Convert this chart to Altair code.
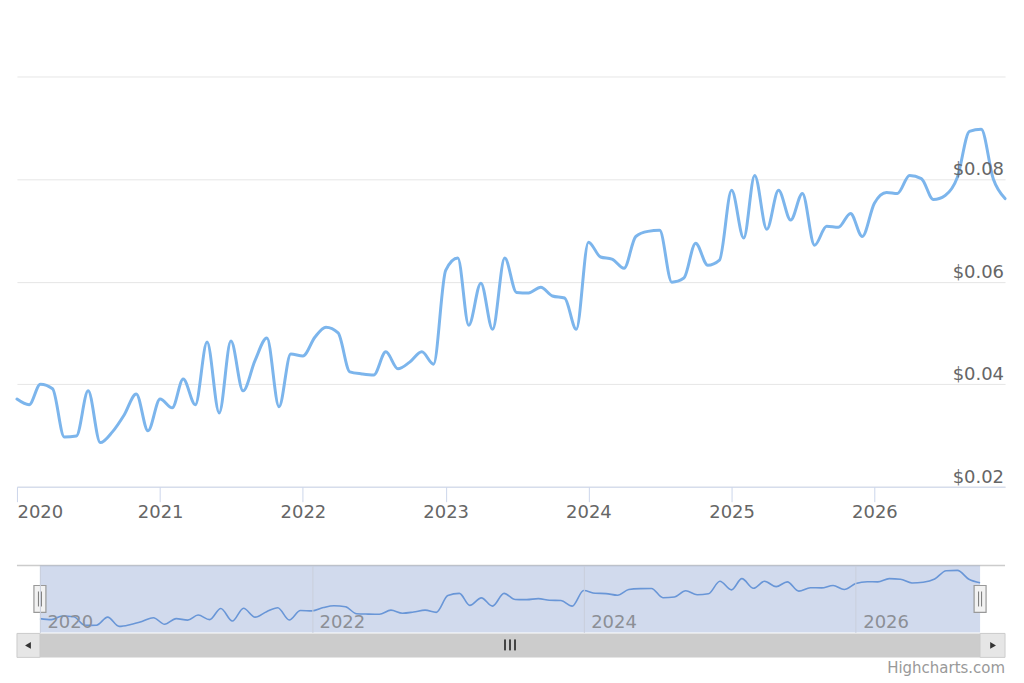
import altair as alt
import pandas as pd

# ---- data (monthly) ----
dates = pd.date_range("2020-01-01", periods=84, freq="MS").strftime("%Y-%m-%d").tolist()
values = [
    0.0371, 0.0360, 0.0400, 0.0391, 0.0297, 0.0299, 0.0387, 0.0286, 0.0307, 0.0340, 0.0381, 0.0309,
    0.0371, 0.0354, 0.0410, 0.0360, 0.0482, 0.0344, 0.0484, 0.0387, 0.0447, 0.0490, 0.0356, 0.0459,
    0.0455, 0.0492, 0.0511, 0.0500, 0.0424, 0.0420, 0.0418, 0.0463, 0.0430, 0.0443, 0.0463, 0.0439,
    0.0622, 0.0646, 0.0515, 0.0597, 0.0507, 0.0646, 0.0579, 0.0578, 0.0589, 0.0572, 0.0568, 0.0507,
    0.0677, 0.0648, 0.0644, 0.0626, 0.0688, 0.0698, 0.0700, 0.0599, 0.0607, 0.0675, 0.0632, 0.0642,
    0.0778, 0.0685, 0.0807, 0.0702, 0.0778, 0.0720, 0.0772, 0.0671, 0.0708, 0.0706, 0.0733, 0.0688,
    0.0753, 0.0774, 0.0772, 0.0807, 0.0801, 0.0760, 0.0768, 0.0803, 0.0893, 0.0897, 0.0800, 0.0762,
]
y_ticks = [0.02, 0.04, 0.06, 0.08, 0.10]
y_labels = ["$0.02", "$0.04", "$0.06", "$0.08"]
main_years = [2020, 2021, 2022, 2023, 2024, 2025, 2026]
nav_years = [2020, 2022, 2024, 2026]
credit = "Highcharts.com"

df = pd.DataFrame({"date": dates, "value": values})
lab_df = pd.DataFrame({"tick": y_ticks[:4], "label": y_labels})
ends_df = pd.DataFrame({"date": [dates[0], dates[-1]]})
range_df = pd.DataFrame({"start": [dates[0]], "end": [dates[-1]]})
one = pd.DataFrame({"k": [0]})

FONT = "DejaVu Sans"
W = 990
H_MAIN = 411
H_NAV = 67

d0 = alt.DateTime(year=2020, month=1, date=1, utc=True)
d1 = alt.DateTime(year=2026, month=12, date=1, utc=True)

# ---------------- main chart ----------------
x_main = alt.X(
    "date:T",
    scale=alt.Scale(type="utc", domain=[d0, d1], range=[0, W]),
    axis=alt.Axis(
        values=[alt.DateTime(year=y, month=1, date=1, utc=True) for y in main_years],
        format="%Y", title=None, grid=False,
        domainColor="#ccd6eb", tickColor="#ccd6eb", tickSize=15,
        labelFontSize=18, labelColor="#666666", labelFont=FONT,
        labelFlush=True, labelPadding=2, labelOverlap=False,
    ),
)
y_scale_main = alt.Scale(domain=[0.02, 0.10], nice=False, zero=False)

line = alt.Chart(df).mark_line(
    interpolate="monotone", color="#7cb5ec", strokeWidth=3, strokeJoin="round", strokeCap="round"
).encode(
    x=x_main,
    y=alt.Y("value:Q", scale=y_scale_main,
            axis=alt.Axis(values=y_ticks, labels=False, ticks=False, domain=False,
                          grid=True, gridColor="#e6e6e6", title=None)),
)

ylabels = alt.Chart(lab_df).mark_text(
    align="right", baseline="alphabetic", dy=-4, fontSize=18, font=FONT, color="#666666"
).encode(
    x=alt.value(W - 1),
    y=alt.Y("tick:Q", scale=y_scale_main),
    text="label:N",
)

main = alt.layer(line, ylabels).properties(width=W, height=H_MAIN)

# ---------------- navigator + scrollbar ----------------
x_nav_scale = alt.Scale(type="utc", domain=[d0, d1], range=[23, 965])
x_nav = alt.X(
    "date:T",
    scale=x_nav_scale,
    axis=alt.Axis(
        values=[alt.DateTime(year=y, month=1, date=1, utc=True) for y in nav_years],
        format="%Y", title=None, grid=True, gridColor="#c9cfdc", domain=False,
        ticks=False, tickSize=0, labelAlign="left", labelOffset=7, labelPadding=-5,
        labelBaseline="alphabetic", labelFontSize=18, labelColor="#8c8f96",
        labelFont=FONT, labelFlush=False, zindex=1, labelOverlap=False,
    ),
)
y_nav_scale = alt.Scale(domain=[0.022, 0.095], nice=False, zero=False)

nav_outline = alt.Chart(one).mark_rule(color="#cccccc", strokeWidth=1.5).encode(
    x=alt.value(0), x2=alt.value(W), y=alt.value(0)
)
nav_line = alt.Chart(df).mark_line(
    interpolate="monotone", color="#6a9ee0", strokeWidth=1.6
).encode(
    x=x_nav,
    y=alt.Y("value:Q", scale=y_nav_scale, axis=None),
)
nav_mask = alt.Chart(range_df).mark_rect(color="#6685c2", opacity=0.3).encode(
    x=alt.X("start:T", scale=x_nav_scale),
    x2="end:T",
    y=alt.value(0), y2=alt.value(H_NAV),
)
handles = alt.Chart(ends_df).mark_rect(
    fill="#f2f2f2", stroke="#999999", strokeWidth=1.2, xOffset=-6, x2Offset=6
).encode(
    x=alt.X("date:T", scale=x_nav_scale), x2="date:T",
    y=alt.value(20), y2=alt.value(47),
)
grip_l = alt.Chart(ends_df).mark_rule(color="#777777", strokeWidth=1, xOffset=-1.5).encode(
    x=alt.X("date:T", scale=x_nav_scale), y=alt.value(26), y2=alt.value(41)
)
grip_r = alt.Chart(ends_df).mark_rule(color="#777777", strokeWidth=1, xOffset=1.5).encode(
    x=alt.X("date:T", scale=x_nav_scale), y=alt.value(26), y2=alt.value(41)
)

# scrollbar (below navigator)
SB0, SB1 = H_NAV + 1, H_NAV + 25
bar = alt.Chart(range_df).mark_rect(color="#cccccc").encode(
    x=alt.X("start:T", scale=x_nav_scale), x2="end:T",
    y=alt.value(SB0), y2=alt.value(SB1),
)
btn_l = alt.Chart(one).mark_rect(fill="#e6e6e6", stroke="#cccccc", strokeWidth=1).encode(
    x=alt.value(0), x2=alt.value(23), y=alt.value(SB0), y2=alt.value(SB1)
)
btn_r = alt.Chart(one).mark_rect(fill="#e6e6e6", stroke="#cccccc", strokeWidth=1).encode(
    x=alt.value(965), x2=alt.value(W), y=alt.value(SB0), y2=alt.value(SB1)
)
arr_l = alt.Chart(one).mark_point(shape="triangle-left", filled=True, size=45, color="#333333", opacity=1).encode(
    x=alt.value(11), y=alt.value((SB0 + SB1) / 2)
)
arr_r = alt.Chart(one).mark_point(shape="triangle-right", filled=True, size=45, color="#333333", opacity=1).encode(
    x=alt.value(978), y=alt.value((SB0 + SB1) / 2)
)
grips = [
    alt.Chart(one).mark_rule(color="#444444", strokeWidth=2).encode(
        x=alt.value(gx), y=alt.value(SB0 + 6), y2=alt.value(SB0 + 17)
    )
    for gx in (489, 494, 499)
]
credit_txt = alt.Chart(one).mark_text(
    align="right", baseline="middle", fontSize=15, font=FONT, color="#999999"
).encode(x=alt.value(W), y=alt.value(SB1 + 11), text=alt.value(credit))

nav = alt.layer(
    nav_outline, nav_line, nav_mask, handles, grip_l, grip_r,
    bar, btn_l, btn_r, arr_l, arr_r, *grips, credit_txt,
).properties(width=W, height=H_NAV)

chart = alt.vconcat(main, nav, spacing=79, bounds="flush").resolve_scale(
    x="independent", y="independent"
).properties(
    padding={"left": 15, "top": 76, "right": 17, "bottom": 5},
    background="white",
).configure(font=FONT).configure_view(stroke=None, strokeWidth=0)

chart.save("out.html", embed_options={"renderer": "svg", "actions": False})
